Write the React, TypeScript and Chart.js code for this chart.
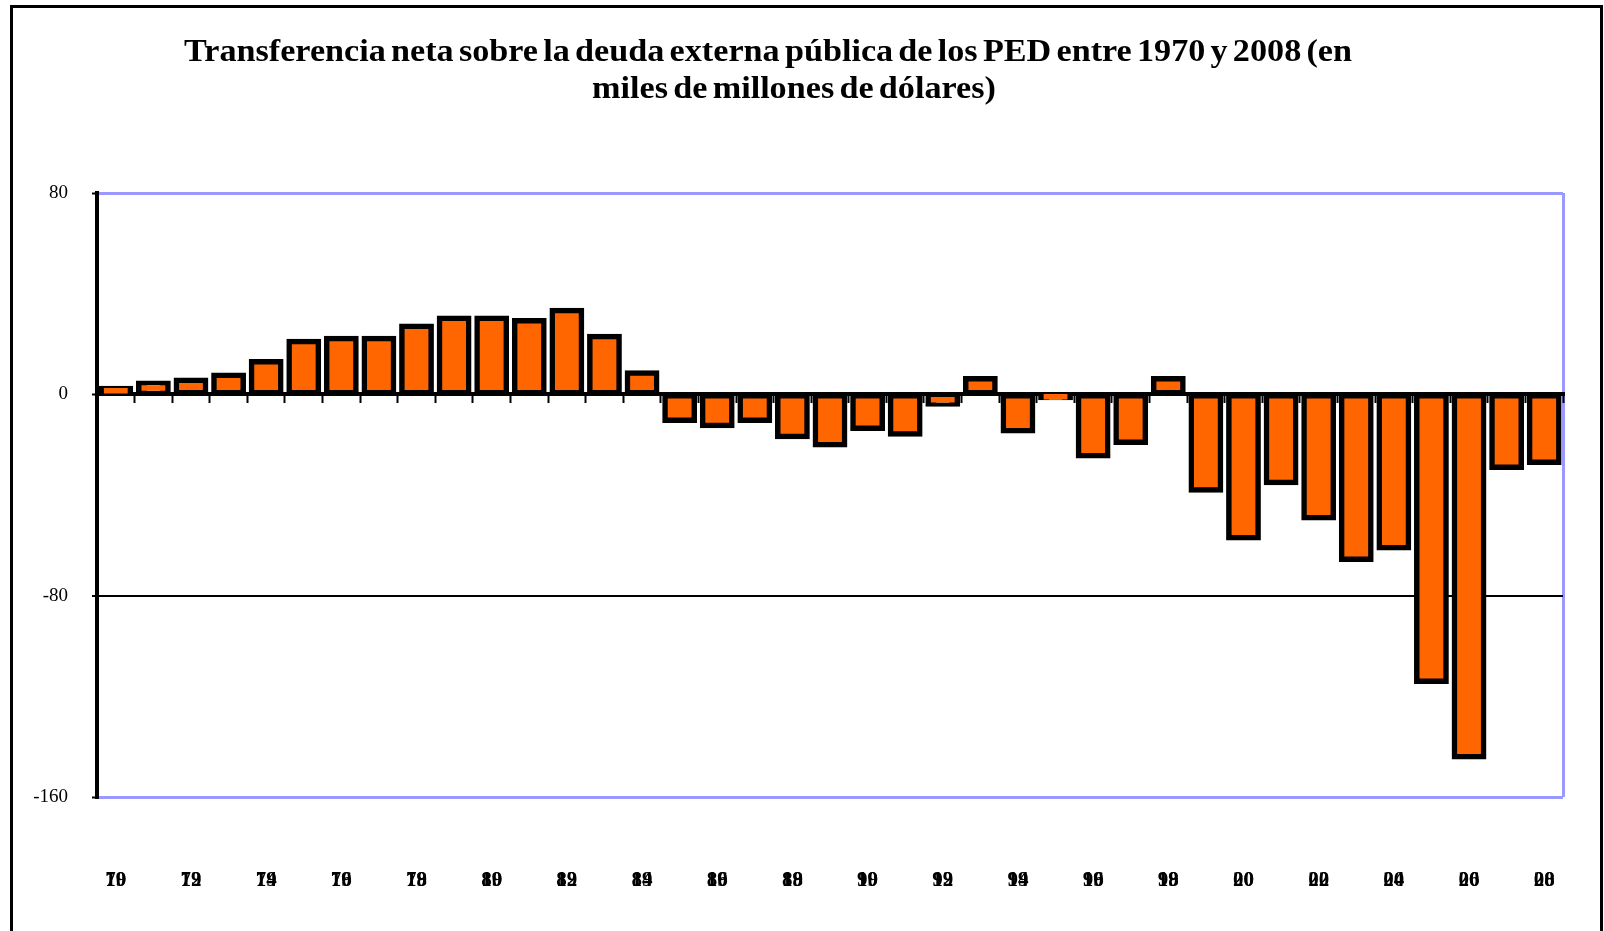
import React, { useEffect, useRef } from 'react';
import { Chart, registerables } from 'chart.js';

Chart.register(...registerables);

const titleLines = [
  'Transferencia neta sobre la deuda externa pública de los PED entre 1970 y 2008 (en',
  'miles de millones de dólares)',
];

const years = [
  '1970', '1971', '1972', '1973', '1974', '1975', '1976', '1977', '1978', '1979',
  '1980', '1981', '1982', '1983', '1984', '1985', '1986', '1987', '1988', '1989',
  '1990', '1991', '1992', '1993', '1994', '1995', '1996', '1997', '1998', '1999',
  '2000', '2001', '2002', '2003', '2004', '2005', '2006', '2007', '2008',
];

const transferencia = [
  2.3, 4.4, 5.6, 7.6, 12.9, 21.0, 22.2, 22.2, 27.1, 30.2,
  30.2, 29.2, 33.3, 23.0, 8.5, -10.3, -12.4, -10.3, -16.8, -20.0,
  -13.5, -15.8, -3.8, 6.2, -14.5, -1.3, -24.4, -19.0, 6.2, -38.0,
  -57.0, -35.0, -49.0, -65.5, -61.0, -114.0, -144.0, -29.0, -27.0,
];

const yMin = -160;
const yMax = 80;
const yStep = 80;

const LAVENDER = '#9999ff';

const titlePlugin = {
  id: 'titleLines',
  afterDraw(chart: any) {
    const ctx = chart.ctx as any;
    ctx.save();
    ctx.font = 'bold 31px "Liberation Serif"';
    ctx.fillStyle = '#000';
    ctx.textAlign = 'center';
    ctx.textBaseline = 'alphabetic';
    ctx.wordSpacing = '-3px';
    const sx = 1168 / ctx.measureText(titleLines[0]).width;
    ctx.scale(sx, 1);
    const centers = [768, 794];
    titleLines.forEach((t, i) => ctx.fillText(t, centers[i] / sx, 61 + i * 37));
    ctx.restore();
  },
};

export default function App() {
  const ref = useRef<HTMLCanvasElement | null>(null);

  useEffect(() => {
    if (!ref.current) return;
    const chart = new Chart(ref.current, {
      type: 'bar',
      data: {
        labels: years,
        datasets: [
          {
            label: 'Transferencia neta',
            data: transferencia,
            backgroundColor: '#ff6600',
            borderColor: '#000000',
            borderWidth: 5.5,
            borderSkipped: false,
            inflateAmount: 2.75,
            barPercentage: 0.78,
            categoryPercentage: 1,
          } as any,
        ],
      },
      options: {
        responsive: false,
        animation: false,
        events: [],
        layout: { padding: { top: 193, right: 41, bottom: 34, left: 0 } },
        plugins: {
          legend: { display: false },
          title: { display: false },
          tooltip: { enabled: false },
        },
        scales: {
          x: {
            type: 'category',
            position: { y: 0 } as any,
            offset: true,
            grid: {
              offset: true,
              drawOnChartArea: true,
              drawTicks: true,
              tickLength: 7,
              tickColor: '#000',
              tickWidth: 2,
              color: (c: any) => (c.type === 'scale' ? LAVENDER : 'rgba(0,0,0,0)'),
              lineWidth: 3,
            },
            border: { display: true, color: '#000', width: 4 },
            ticks: { display: false },
          },
          x2: {
            type: 'category',
            position: 'bottom',
            offset: true,
            grid: { display: false, drawTicks: true, tickLength: 80 },
            border: { display: false },
            ticks: {
              autoSkip: false,
              maxRotation: 0,
              minRotation: 0,
              padding: 3,
              color: '#000',
              font: { family: 'Liberation Serif', size: 21, weight: 'bold', lineHeight: 0.01 },
              callback: (_v: any, i: number) =>
                i % 2 === 0 ? [years[i].slice(0, 2), years[i].slice(2)] : '',
            },
            afterFit: (s: any) => {
              s.height = 100;
              s.paddingLeft = 0;
              s.paddingRight = 0;
            },
          } as any,
          y: {
            min: yMin,
            max: yMax,
            position: 'left',
            ticks: {
              stepSize: yStep,
              padding: 24,
              color: '#000',
              font: { family: 'Liberation Serif', size: 19 },
            },
            grid: {
              drawTicks: true,
              tickLength: 5,
              tickColor: '#000',
              tickWidth: 2,
              color: (c: any) => {
                const v = c.tick ? c.tick.value : null;
                if (v === -80) return '#000';
                if (v === 0) return 'rgba(0,0,0,0)';
                return LAVENDER;
              },
              lineWidth: (c: any) => (c.tick && c.tick.value === -80 ? 2 : 3),
            },
            border: { display: true, color: '#000', width: 4 },
            afterFit: (s: any) => {
              s.width = 97;
            },
          } as any,
        },
      },
      plugins: [titlePlugin],
    });
    return () => chart.destroy();
  }, []);

  return (
    <div
      style={{
        position: 'fixed',
        left: 0,
        top: 0,
        width: 1604,
        height: 931,
        overflow: 'hidden',
        background: '#fff',
      }}
    >
      <div
        style={{
          position: 'absolute',
          left: 10,
          top: 5,
          width: 1593,
          height: 1000,
          border: '3px solid #000',
          boxSizing: 'border-box',
        }}
      />
      <canvas
        ref={ref}
        width={1604}
        height={931}
        style={{ position: 'absolute', left: 0, top: 0, width: 1604, height: 931 }}
      />
    </div>
  );
}
